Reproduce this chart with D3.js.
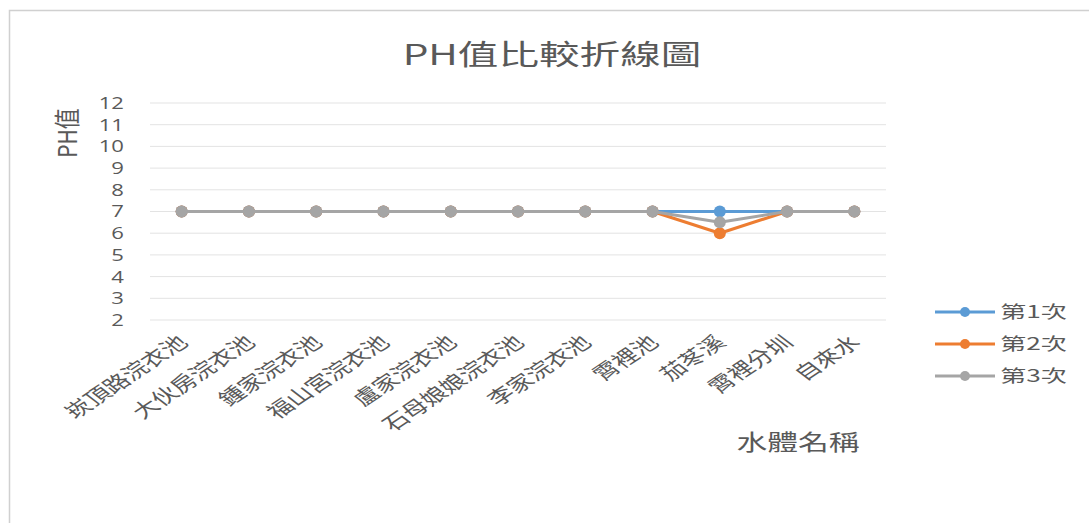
<!DOCTYPE html>
<html><head><meta charset="utf-8">
<script src="https://cdn.jsdelivr.net/npm/d3@7/dist/d3.min.js"></script>
<style>
body{margin:0;background:#fff;}
text{font-family:"Noto Sans CJK TC","Noto Sans",sans-serif;}
</style></head>
<body><svg id="c" width="1089" height="523"></svg>
<script>
const categories = ["崁頂路浣衣池","大伙房浣衣池","鍾家浣衣池","福山宮浣衣池","盧家浣衣池","石母娘娘浣衣池","李家浣衣池","霄裡池","茄苳溪","霄裡分圳","自來水"];
const series1 = [7,7,7,7,7,7,7,7,7,7,7];
const series2 = [7,7,7,7,7,7,7,7,6,7,7];
const series3 = [7,7,7,7,7,7,7,7,6.5,7,7];
const seriesNames = ["第1次","第2次","第3次"];
const colors = ["#5B9BD5","#ED7D31","#A5A5A5"];
const yTicks = [2,3,4,5,6,7,8,9,10,11,12];

const SX = 1.45; // horizontal text stretch seen in the reference
const svg = d3.select("#c");
svg.append("rect").attr("x",9.5).attr("y",10.5).attr("width",1100).attr("height",1100)
  .attr("fill","#fff").attr("stroke","#d0d0d0").attr("stroke-width",1.5);

const x = d3.scalePoint().domain(categories).range([148,888]).padding(0.5);
const y = d3.scaleLinear().domain([2,12]).range([320,103]);

// gridlines
svg.append("g").selectAll("line").data(yTicks).join("line")
  .attr("x1",150).attr("x2",886).attr("y1",d=>y(d)).attr("y2",d=>y(d))
  .attr("stroke","#e3e3e3").attr("stroke-width",1);

// y axis labels
const yAxis = d3.axisLeft(y).tickValues(yTicks).tickSize(0).tickPadding(0);
const ga = svg.append("g").attr("transform","translate(124,0)").call(yAxis);
ga.select(".domain").remove();
ga.selectAll("text").attr("font-size",17).attr("fill","#595959")
  .attr("transform","scale(1.3,1)")
  .style("font-family","'Open Sans','Noto Sans',sans-serif");

// x axis labels
const gx = svg.append("g").attr("transform","translate(0,344)")
  .call(d3.axisBottom(x).tickSize(0).tickPadding(0));
gx.select(".domain").remove();
gx.selectAll("text").attr("font-size",18.5).attr("fill","#595959")
  .attr("text-anchor","end").attr("dy","0").attr("y",0)
  .attr("transform",`translate(7,0) scale(1.4,1) rotate(-43)`);

// lines
const allSeries = [series1,series2,series3];
const line = d3.line().x((d,i)=>x(categories[i])).y(d=>y(d));
allSeries.forEach((s,k)=>{
  svg.append("path").datum(s).attr("d",line).attr("fill","none")
    .attr("stroke",colors[k]).attr("stroke-width",3).attr("stroke-linejoin","round");
  svg.append("g").selectAll("circle").data(s).join("circle")
    .attr("cx",(d,i)=>x(categories[i])).attr("cy",d=>y(d)).attr("r",6)
    .attr("fill",colors[k]);
});

// title
svg.append("text").attr("transform",`translate(552,65) scale(${SX},1)`).attr("text-anchor","middle")
  .attr("font-size",28).attr("fill","#595959").text("PH值比較折線圖");
// y title
svg.append("text").attr("transform","translate(77,133) rotate(-90) scale(1,1.25)").attr("text-anchor","middle")
  .attr("font-size",21).attr("fill","#595959").text("PH值");
// x title
svg.append("text").attr("transform",`translate(798,450) scale(1.4,1)`).attr("text-anchor","middle")
  .attr("font-size",22).attr("fill","#595959").text("水體名稱");

// legend
const lg = svg.append("g");
seriesNames.forEach((n,k)=>{
  const yy = 312 + k*32;
  lg.append("line").attr("x1",935).attr("x2",995).attr("y1",yy).attr("y2",yy)
    .attr("stroke",colors[k]).attr("stroke-width",3);
  lg.append("circle").attr("cx",965).attr("cy",yy).attr("r",5).attr("fill",colors[k]);
  lg.append("text").attr("transform",`translate(1000,${yy}) scale(1.5,1)`).attr("dy","0.35em")
    .attr("font-size",17.5).attr("fill","#595959").text(n);
});
</script></body></html>
